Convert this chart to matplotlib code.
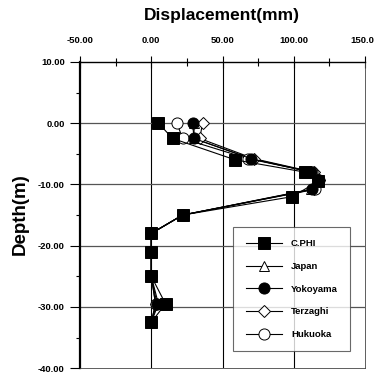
import matplotlib
matplotlib.use("Agg")
import matplotlib.pyplot as plt
from matplotlib.ticker import MultipleLocator

depth_cphi = [0, -2.5, -6, -8, -9.5, -12, -15, -18, -21, -25, -29.5, -32.5]
depth_other = [0, -2.5, -5.8, -8, -9.3, -10.8, -15, -18, -21, -25, -29.5, -32.5]
c_phi = [5, 15, 59, 108, 117, 99, 22, 0, 0, 0, 10, 0]
japan = [30, 30, 70, 113, 118, 112, 22, 0, 0, 0, 5, 0]
yokoyama = [29, 30, 70, 112, 118, 113, 22, 0, 0, 0, 4, 0]
terzaghi = [36, 34, 72, 114, 118, 114, 22, 0, 0, 0, 3, 0]
hukuoka = [18, 22, 68, 113, 117, 115, 22, 0, 0, 0, 3, 0]

x_ticks = [-50, 0, 50, 100, 150]
y_ticks = [10, 0, -10, -20, -30, -40]

plt.rcParams['font.family'] = ['Liberation Sans', 'DejaVu Sans']

fig = plt.figure(figsize=(3.74, 3.73), dpi=100)
ax = fig.add_axes([0.214, 0.013, 0.762, 0.821])

series = [
    ("C.PHI", c_phi, depth_cphi, dict(marker='s', mfc='black', ms=8), 6),
    ("Japan", japan, depth_other, dict(marker='^', mfc='white', ms=7), 3),
    ("Yokoyama", yokoyama, depth_other, dict(marker='o', mfc='black', ms=8), 5),
    ("Terzaghi", terzaghi, depth_other, dict(marker='D', mfc='white', ms=6), 3),
    ("Hukuoka", hukuoka, depth_other, dict(marker='o', mfc='white', ms=8), 4),
]
for name, vals, d, style, z in series:
    ax.plot(vals, d, color='black', lw=0.8, mec='black', mew=0.7,
            label=name, zorder=z, **style)

ax.set_xlim(-50, 150)
ax.set_ylim(-40, 10)
ax.xaxis.tick_top()
ax.set_xticks(x_ticks)
ax.set_xticklabels([f"{v:.2f}" for v in x_ticks], fontsize=6.8, fontweight='bold')
ax.set_yticks(y_ticks)
ax.set_yticklabels([f"{v:.2f}" for v in y_ticks], fontsize=6.8, fontweight='bold')
ax.xaxis.set_minor_locator(MultipleLocator(25))
ax.yaxis.set_minor_locator(MultipleLocator(5))
ax.tick_params(axis='x', which='major', direction='inout', length=8, width=0.8, pad=8)
ax.tick_params(axis='x', which='minor', direction='inout', length=6, width=0.8)
ax.tick_params(axis='y', which='major', direction='out', length=7, width=0.8, pad=4)
ax.tick_params(axis='y', which='minor', direction='out', length=3, width=0.8)

for v in [0, 50, 100]:
    ax.axvline(v, color='black', lw=0.8, zorder=1)
for v in [0, -10, -20, -30]:
    ax.axhline(v, color='#555555', lw=0.9, zorder=1)

ax.spines['left'].set_linewidth(1.6)
ax.spines['top'].set_linewidth(1.0)
ax.spines['right'].set_linewidth(0.6)
ax.spines['bottom'].set_linewidth(0.6)
ax.spines['right'].set_color('#444444')
ax.spines['bottom'].set_color('#444444')

fig.text(0.592, 0.958, "Displacement(mm)", ha='center', va='center',
         fontsize=12.5, fontweight='bold')
fig.text(0.055, 0.426, "Depth(m)", ha='center', va='center', rotation=90,
         fontsize=13.5, fontweight='bold')

leg = ax.legend(loc='lower right', bbox_to_anchor=(0.948, 0.055), fontsize=6.8,
                frameon=True, fancybox=False, edgecolor='#444444',
                borderpad=1.3, labelspacing=1.45, handlelength=3.8,
                handletextpad=1.0, borderaxespad=0)
leg.get_frame().set_linewidth(0.8)
for t in leg.get_texts():
    t.set_fontweight('bold')

fig.savefig("out.png", dpi=100)
